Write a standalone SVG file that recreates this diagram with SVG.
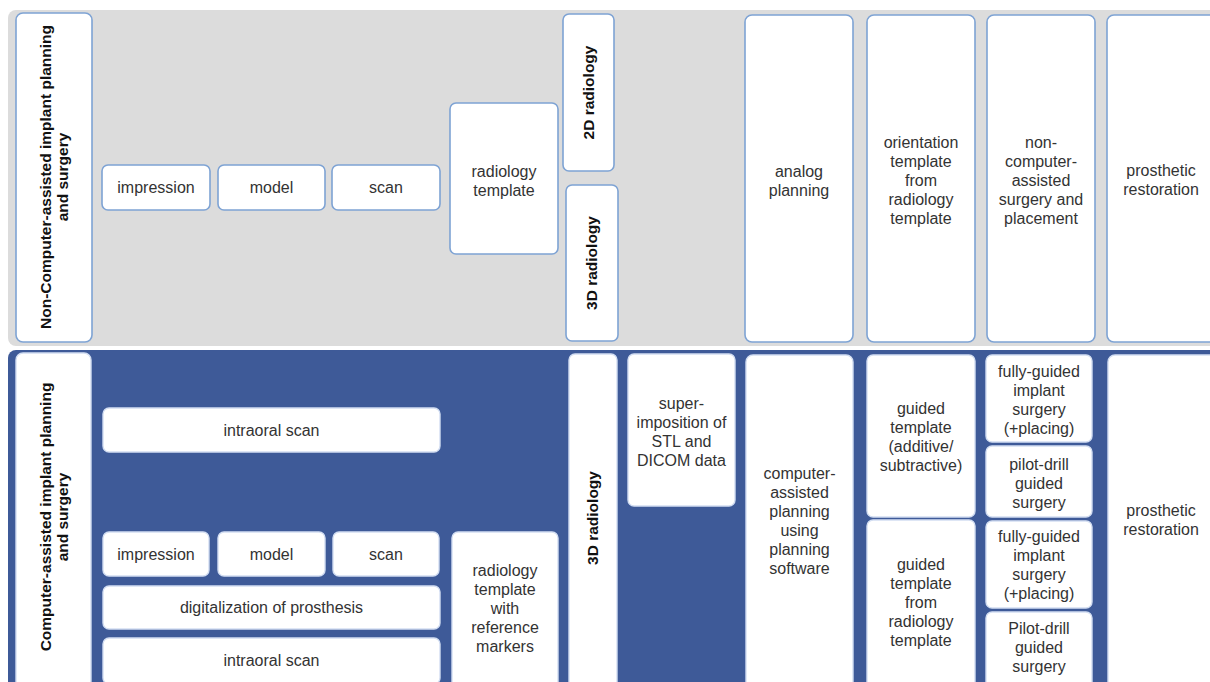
<svg xmlns="http://www.w3.org/2000/svg" width="1210" height="682" viewBox="0 0 1210 682">
  <style>
    .panel-gray { fill: #dcdcdc; }
    .panel-blue { fill: #3e5a98; }
    .box-top { fill: #ffffff; stroke: #7ea3d4; stroke-width: 1.6; }
    .box-bot { fill: #ffffff; stroke: #d3def2; stroke-width: 1.4; }
    .t { font-family: "Liberation Sans", Arial, sans-serif; font-size: 16px; fill: #333333; text-anchor: middle; }
    .b { font-family: "Liberation Sans", Arial, sans-serif; font-size: 15.5px; font-weight: bold; fill: #111111; text-anchor: middle; }
  </style>

  <rect width="1210" height="682" fill="#ffffff"/>

  <!-- background bands -->
  <rect class="panel-gray" x="8" y="10" width="1215" height="336" rx="8"/>
  <rect class="panel-blue" x="8" y="350" width="1215" height="345" rx="8"/>

  <!-- ===== non-computer-assisted workflow ===== -->
  <g id="label-conventional">
    <rect class="box-top" x="16" y="13" width="76" height="329" rx="7"/>
    <text class="b" transform="translate(54,177) rotate(-90)"><tspan x="0" y="-3">Non-Computer-assisted implant planning</tspan><tspan x="0" y="14">and surgery</tspan></text>
  </g>
  <g id="conv-impression">
    <rect class="box-top" x="102" y="165" width="108" height="45" rx="6"/>
    <text class="t" x="156" y="193">impression</text>
  </g>
  <g id="conv-model">
    <rect class="box-top" x="218" y="165" width="107" height="45" rx="6"/>
    <text class="t" x="271.5" y="193">model</text>
  </g>
  <g id="conv-scan">
    <rect class="box-top" x="332" y="165" width="108" height="45" rx="6"/>
    <text class="t" x="386" y="193">scan</text>
  </g>
  <g id="conv-radiology-template">
    <rect class="box-top" x="450" y="103" width="108" height="151" rx="6"/>
    <text class="t" x="504" y="177">radiology<tspan x="504" dy="18.5">template</tspan></text>
  </g>
  <g id="conv-2d-radiology">
    <rect class="box-top" x="563" y="14" width="51" height="157" rx="6"/>
    <text class="b" font-size="15" transform="translate(588.5,92.5) rotate(-90)" y="5">2D radiology</text>
  </g>
  <g id="conv-3d-radiology">
    <rect class="box-top" x="566" y="185" width="52" height="156" rx="6"/>
    <text class="b" font-size="15" transform="translate(592,263) rotate(-90)" y="5">3D radiology</text>
  </g>
  <g id="conv-analog-planning">
    <rect class="box-top" x="745" y="15" width="108" height="327" rx="7"/>
    <text class="t" x="799" y="177">analog<tspan x="799" dy="18.5">planning</tspan></text>
  </g>
  <g id="conv-orientation-template">
    <rect class="box-top" x="867" y="15" width="108" height="327" rx="7"/>
    <text class="t" x="921" y="148">orientation<tspan x="921" dy="19">template</tspan><tspan x="921" dy="19">from</tspan><tspan x="921" dy="19">radiology</tspan><tspan x="921" dy="19">template</tspan></text>
  </g>
  <g id="conv-surgery">
    <rect class="box-top" x="987" y="15" width="108" height="327" rx="7"/>
    <text class="t" x="1041" y="148">non-<tspan x="1041" dy="19">computer-</tspan><tspan x="1041" dy="19">assisted</tspan><tspan x="1041" dy="19">surgery and</tspan><tspan x="1041" dy="19">placement</tspan></text>
  </g>
  <g id="conv-prosthetic">
    <rect class="box-top" x="1107" y="15" width="110" height="327" rx="7"/>
    <text class="t" x="1161" y="176">prosthetic<tspan x="1161" dy="18.5">restoration</tspan></text>
  </g>

  <!-- ===== computer-assisted workflow ===== -->
  <g id="label-computer">
    <rect class="box-bot" x="16" y="353" width="75" height="335" rx="7"/>
    <text class="b" transform="translate(54,517) rotate(-90)"><tspan x="0" y="-3">Computer-assisted implant planning</tspan><tspan x="0" y="14">and surgery</tspan></text>
  </g>
  <g id="cas-intraoral-scan">
    <rect class="box-bot" x="103" y="408" width="337" height="44" rx="6"/>
    <text class="t" x="271.5" y="436">intraoral scan</text>
  </g>
  <g id="cas-impression">
    <rect class="box-bot" x="103" y="532" width="106" height="44" rx="6"/>
    <text class="t" x="156" y="560">impression</text>
  </g>
  <g id="cas-model">
    <rect class="box-bot" x="218" y="532" width="107" height="44" rx="6"/>
    <text class="t" x="271.5" y="560">model</text>
  </g>
  <g id="cas-scan">
    <rect class="box-bot" x="333" y="532" width="106" height="44" rx="6"/>
    <text class="t" x="386" y="560">scan</text>
  </g>
  <g id="cas-digitalization">
    <rect class="box-bot" x="103" y="586" width="337" height="43" rx="6"/>
    <text class="t" x="271.5" y="613">digitalization of prosthesis</text>
  </g>
  <g id="cas-intraoral-scan-2">
    <rect class="box-bot" x="103" y="638" width="337" height="46" rx="6"/>
    <text class="t" x="271.5" y="666">intraoral scan</text>
  </g>
  <g id="cas-radiology-template">
    <rect class="box-bot" x="452" y="532" width="106" height="160" rx="6"/>
    <text class="t" x="505" y="576">radiology<tspan x="505" dy="19">template</tspan><tspan x="505" dy="19">with</tspan><tspan x="505" dy="19">reference</tspan><tspan x="505" dy="19">markers</tspan></text>
  </g>
  <g id="cas-3d-radiology">
    <rect class="box-bot" x="569" y="354" width="48" height="338" rx="6"/>
    <text class="b" font-size="15" transform="translate(593,518) rotate(-90)" y="5">3D radiology</text>
  </g>
  <g id="cas-superimposition">
    <rect class="box-bot" x="628" y="354" width="107" height="152" rx="6"/>
    <text class="t" x="681.5" y="409">super-<tspan x="681.5" dy="19">imposition of</tspan><tspan x="681.5" dy="19">STL and</tspan><tspan x="681.5" dy="19">DICOM data</tspan></text>
  </g>
  <g id="cas-planning">
    <rect class="box-bot" x="746" y="355" width="107" height="337" rx="7"/>
    <text class="t" x="799.5" y="479">computer-<tspan x="799.5" dy="19">assisted</tspan><tspan x="799.5" dy="19">planning</tspan><tspan x="799.5" dy="19">using</tspan><tspan x="799.5" dy="19">planning</tspan><tspan x="799.5" dy="19">software</tspan></text>
  </g>
  <g id="cas-guided-template">
    <rect class="box-bot" x="867" y="355" width="108" height="162" rx="6"/>
    <text class="t" x="921" y="414">guided<tspan x="921" dy="19">template</tspan><tspan x="921" dy="19">(additive/</tspan><tspan x="921" dy="19">subtractive)</tspan></text>
  </g>
  <g id="cas-guided-from-radiology">
    <rect class="box-bot" x="867" y="520" width="108" height="172" rx="6"/>
    <text class="t" x="921" y="570">guided<tspan x="921" dy="19">template</tspan><tspan x="921" dy="19">from</tspan><tspan x="921" dy="19">radiology</tspan><tspan x="921" dy="19">template</tspan></text>
  </g>
  <g id="cas-fully-guided-1">
    <rect class="box-bot" x="986" y="355" width="106" height="87" rx="6"/>
    <text class="t" x="1039" y="377">fully-guided<tspan x="1039" dy="19">implant</tspan><tspan x="1039" dy="19">surgery</tspan><tspan x="1039" dy="19">(+placing)</tspan></text>
  </g>
  <g id="cas-pilot-drill-1">
    <rect class="box-bot" x="986" y="446" width="106" height="71" rx="6"/>
    <text class="t" x="1039" y="470">pilot-drill<tspan x="1039" dy="19">guided</tspan><tspan x="1039" dy="19">surgery</tspan></text>
  </g>
  <g id="cas-fully-guided-2">
    <rect class="box-bot" x="986" y="521" width="106" height="87" rx="6"/>
    <text class="t" x="1039" y="542">fully-guided<tspan x="1039" dy="19">implant</tspan><tspan x="1039" dy="19">surgery</tspan><tspan x="1039" dy="19">(+placing)</tspan></text>
  </g>
  <g id="cas-pilot-drill-2">
    <rect class="box-bot" x="986" y="612" width="106" height="80" rx="6"/>
    <text class="t" x="1039" y="634">Pilot-drill<tspan x="1039" dy="19">guided</tspan><tspan x="1039" dy="19">surgery</tspan></text>
  </g>
  <g id="cas-prosthetic">
    <rect class="box-bot" x="1108" y="355" width="110" height="337" rx="7"/>
    <text class="t" x="1161" y="516">prosthetic<tspan x="1161" dy="19">restoration</tspan></text>
  </g>
</svg>
